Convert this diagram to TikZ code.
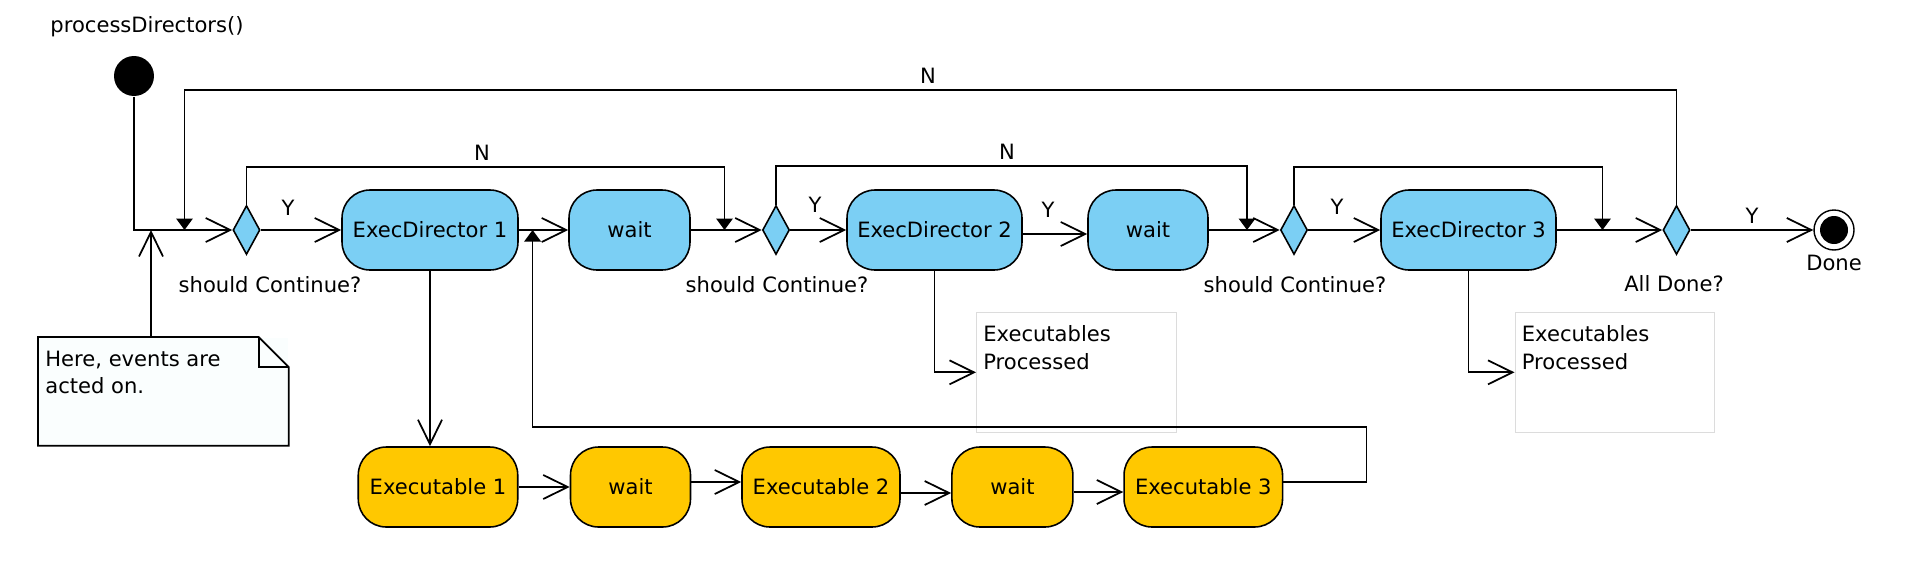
\documentclass[tikz,border=0pt]{standalone}
\usepackage{fontspec}
\setmainfont{DejaVu Sans}
\usetikzlibrary{shapes,arrows.meta}
\definecolor{actblue}{RGB}{123,207,244}
\definecolor{exeyel}{RGB}{255,200,0}
\definecolor{notefill}{RGB}{250,254,254}
\definecolor{boxgray}{RGB}{220,220,220}
\tikzstyle{act}=[draw, rounded corners=0.56cm, minimum height=1.6cm, inner sep=0pt, line width=0.9pt]
\tikzstyle{dir}=[act, fill=actblue]
\tikzstyle{exe}=[act, fill=exeyel]
\tikzstyle{dec}=[draw, diamond, fill=actblue, minimum width=0.54cm, minimum height=0.98cm, inner sep=0pt, line width=0.9pt]
\tikzstyle{opn}=[-{Straight Barb[length=0.49cm,width=0.48cm]}]
\tikzstyle{fil}=[-{Triangle[length=0.23cm,width=0.33cm]}]
\begin{document}
\begin{tikzpicture}[x=0.02cm, y=-0.02cm, line width=1pt, font=\fontsize{12}{15.5}\selectfont]
\useasboundingbox (0,0) rectangle (1916,572);

\node (title) at (147,27) {processDirectors()};
\node[circle, fill=black, minimum size=0.8cm, inner sep=0pt] (init) at (134,76) {};
\node[draw, circle, fill=white, minimum size=0.8cm, inner sep=0pt, line width=0.8pt] (fin) at (1834,230) {};
\node[circle, fill=black, minimum size=0.56cm, inner sep=0pt] (fdot) at (fin) {};
\node (donelbl) at (1834,263) {Done};

% directors
\node[dir, minimum width=3.52cm] (ed1) at (430,230) {ExecDirector 1};
\node[dir, minimum width=2.42cm] (w1) at (629.5,230) {wait};
\node[dir, minimum width=3.5cm] (ed2) at (934.5,230) {ExecDirector 2};
\node[dir, minimum width=2.4cm] (w2) at (1148,230) {wait};
\node[dir, minimum width=3.5cm] (ed3) at (1468.5,230) {ExecDirector 3};

\node[dec] (d1) at (246.5,230) {};
\node[dec] (d2) at (776,230) {};
\node[dec] (d3) at (1294,230) {};
\node[dec] (d4) at (1676.5,230) {};
\node (q1) at (270,285) {should Continue?};
\node (q2) at (777,285) {should Continue?};
\node (q3) at (1295,285) {should Continue?};
\node (q4) at (1674,284) {All Done?};

% executables
\node[exe, minimum width=3.19cm] (ex1) at (438,487) {Executable 1};
\node[exe, minimum width=2.4cm] (w3) at (630.5,487) {wait};
\node[exe, minimum width=3.16cm] (ex2) at (821,487) {Executable 2};
\node[exe, minimum width=2.42cm] (w4) at (1012.4,487) {wait};
\node[exe, minimum width=3.17cm] (ex3) at (1203.3,487) {Executable 3};

\node[draw=boxgray, line width=0.4pt, inner xsep=0.14cm, inner ysep=0.27cm, anchor=north west] (pr1) at (976,312) {\parbox[t][1.86cm][t]{3.72cm}{Executables\\Processed}};
\node[draw=boxgray, line width=0.4pt, inner xsep=0.14cm, inner ysep=0.27cm, anchor=north west] (pr2) at (1514.5,312) {\parbox[t][1.86cm][t]{3.71cm}{Executables\\Processed}};

% note
\node[fill=notefill, inner xsep=0.13cm, inner ysep=0.26cm, anchor=north west] (note) at (38,337) {\parbox[t][1.62cm][t]{4.72cm}{Here, events are\\acted on.}};
\draw (note.north west) -- ([xshift=-0.6cm]note.north east) -- ([yshift=-0.6cm]note.north east) -- (note.south east) -- (note.south west) -- cycle;
\draw ([xshift=-0.6cm]note.north east) |- ([yshift=-0.6cm]note.north east);

\coordinate (j1) at (151,230);
\coordinate (top0) at (184.5,90);
\coordinate (j2) at (184.5,230);
\coordinate (lp1) at (724.5,167);
\coordinate (j3) at (724.5,230);
\coordinate (lp2) at (1247,166);
\coordinate (j4) at (1247,230);
\coordinate (lp3) at (1602.5,167);
\coordinate (j5) at (1602.5,230);
\coordinate (r1) at (1366.5,427);
\coordinate (r2) at (532.6,427);
\coordinate (j6) at (532.6,230);

\draw[opn] (init) |- (d1.west);
\draw[opn] (note.north -| j1) -- (j1);
\draw[fil] (d4.north) |- (top0) -- (j2);
\node (n0) at (928,76) {N};

\draw[opn] (d1.east) -- (ed1.west);
\node (y1) at (288,208) {Y};
\draw[fil] (d1.north) |- (lp1) -- (j3);
\node (n1) at (482,153) {N};
\draw[opn] (ed1.east) -- (w1.west);
\draw[opn] (w1.east) -- (d2.west);
\draw[opn] (d2.east) -- (ed2.west);
\node (y2) at (815,205) {Y};
\draw[fil] (d2.north) |- (lp2) -- (j4);
\node (n2) at (1007,152) {N};
\draw[opn] ([yshift=-0.08cm]ed2.east) -- ([yshift=-0.08cm]w2.west);
\node (y3) at (1048,210) {Y};
\draw[opn] (w2.east) -- (d3.west);
\draw[opn] (d3.east) -- (ed3.west);
\node (y4) at (1337,207) {Y};
\draw[fil] (d3.north) |- (lp3) -- (j5);
\draw[opn] (ed3.east) -- (d4.west);
\draw[opn] (d4.east) -- (fin.west);
\node (y5) at (1752,216) {Y};

\draw[opn] (ed1.south) -- (ed1.south |- ex1.north);
\draw[opn] (ed2.south) |- (pr1.west);
\draw[opn] (ed3.south) |- (pr2.west);

\draw[opn] (ex1.east) -- (w3.west);
\draw[opn] ([yshift=0.1cm]w3.east) -- ([yshift=0.1cm]ex2.west);
\draw[opn] ([yshift=-0.12cm]ex2.east) -- ([yshift=-0.12cm]w4.west);
\draw[opn] ([yshift=-0.1cm]w4.east) -- ([yshift=-0.1cm]ex3.west);
\draw[fil] ([yshift=0.1cm]ex3.east) -| (r1) -- (r2) -- (j6);
\end{tikzpicture}
\end{document}
